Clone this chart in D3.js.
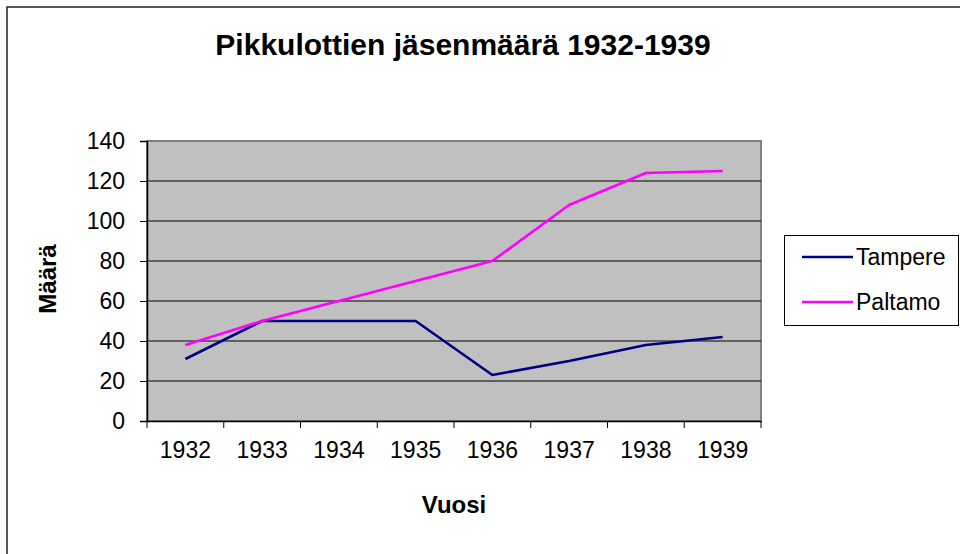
<!DOCTYPE html>
<html>
<head>
<meta charset="utf-8">
<script src="https://cdn.jsdelivr.net/npm/d3@7"></script>
<style>
  html, body { margin: 0; padding: 0; background: #fff; }
  svg { display: block; font-family: "Liberation Sans", Arial, sans-serif; }
</style>
</head>
<body>
<svg id="chart" width="960" height="554"></svg>
<script>
const years = ["1932", "1933", "1934", "1935", "1936", "1937", "1938", "1939"];
const tampere = [31, 50, 50, 50, 23, 30, 38, 42];
const paltamo = [38, 50, 60, 70, 80, 108, 124, 125];
const seriesNames = ["Tampere", "Paltamo"];
const seriesColors = ["#000080", "#ff00ff"];
const yTicks = [0, 20, 40, 60, 80, 100, 120, 140];
const titleText = "Pikkulottien jäsenmäärä 1932-1939";
const xTitle = "Vuosi";
const yTitle = "Määrä";

const svg = d3.select("#chart");
const plot = { left: 147, right: 761, top: 141, bottom: 421 };

// outer chart frame
svg.append("rect").attr("x", 7).attr("y", 7).attr("width", 1000).attr("height", 600)
  .attr("fill", "#fff").attr("stroke", "#222").attr("stroke-width", 1.5);

const x = d3.scaleBand().domain(years).range([plot.left, plot.right]).padding(0);
const y = d3.scaleLinear().domain([0, 140]).range([plot.bottom, plot.top]);

// plot area
svg.append("rect").attr("x", plot.left).attr("y", plot.top)
  .attr("width", plot.right - plot.left).attr("height", plot.bottom - plot.top)
  .attr("fill", "#c0c0c0").attr("stroke", "#808080").attr("stroke-width", 2);

// gridlines
svg.append("g").selectAll("line").data(yTicks.filter(t => t > 0 && t < 140)).join("line")
  .attr("x1", plot.left).attr("x2", plot.right)
  .attr("y1", d => y(d)).attr("y2", d => y(d))
  .attr("stroke", "#000").attr("stroke-width", 1);

// y axis
const yAxis = svg.append("g").attr("transform", `translate(${plot.left},0)`)
  .call(d3.axisLeft(y).tickValues(yTicks).tickSize(7).tickPadding(15).tickFormat(d3.format("d")));
yAxis.select(".domain").attr("stroke", "#000").attr("stroke-width", 1.5);
yAxis.selectAll(".tick line").attr("stroke", "#000");
yAxis.selectAll("text").attr("font-size", 23).attr("fill", "#000")
  .attr("font-family", "Liberation Sans, Arial, sans-serif");

// x axis
const xAxis = svg.append("g").attr("transform", `translate(0,${plot.bottom})`)
  .call(d3.axisBottom(x).tickSize(0).tickPadding(21));
xAxis.select(".domain").attr("stroke", "#000").attr("stroke-width", 1.5);
xAxis.selectAll("text").attr("font-size", 23).attr("fill", "#000")
  .attr("font-family", "Liberation Sans, Arial, sans-serif");
// tick marks at category boundaries
const bounds = years.map(d => x(d)).concat([x(years[years.length - 1]) + x.bandwidth()]);
xAxis.append("g").selectAll("line").data(bounds).join("line")
  .attr("x1", d => d).attr("x2", d => d).attr("y1", 0).attr("y2", 7)
  .attr("stroke", "#000").attr("stroke-width", 1);

// lines
const line = d3.line().x((d, i) => x(years[i]) + x.bandwidth() / 2).y(d => y(d));
[tampere, paltamo].forEach((vals, si) => {
  svg.append("path").datum(vals).attr("d", line)
    .attr("fill", "none").attr("stroke", seriesColors[si]).attr("stroke-width", 2.6)
    .attr("stroke-linejoin", "round");
});

// titles
svg.append("text").attr("x", 463).attr("y", 55).attr("text-anchor", "middle")
  .attr("font-size", 30).attr("font-weight", "bold").text(titleText);
svg.append("text").attr("x", 454).attr("y", 513).attr("text-anchor", "middle")
  .attr("font-size", 24).attr("font-weight", "bold").text(xTitle);
svg.append("text").attr("transform", "translate(56,279) rotate(-90)").attr("text-anchor", "middle")
  .attr("font-size", 24).attr("font-weight", "bold").text(yTitle);

// legend
const lg = svg.append("g");
lg.append("rect").attr("x", 784.5).attr("y", 235.5).attr("width", 174).attr("height", 90)
  .attr("fill", "#fff").attr("stroke", "#000").attr("stroke-width", 1);
const legendY = [257, 302];
seriesNames.forEach((n, i) => {
  lg.append("line").attr("x1", 802).attr("x2", 853).attr("y1", legendY[i]).attr("y2", legendY[i])
    .attr("stroke", seriesColors[i]).attr("stroke-width", 2.6);
  lg.append("text").attr("x", 856).attr("y", legendY[i] + 8).attr("font-size", 23)
    .attr("fill", "#000").text(n);
});
</script>
</body>
</html>
